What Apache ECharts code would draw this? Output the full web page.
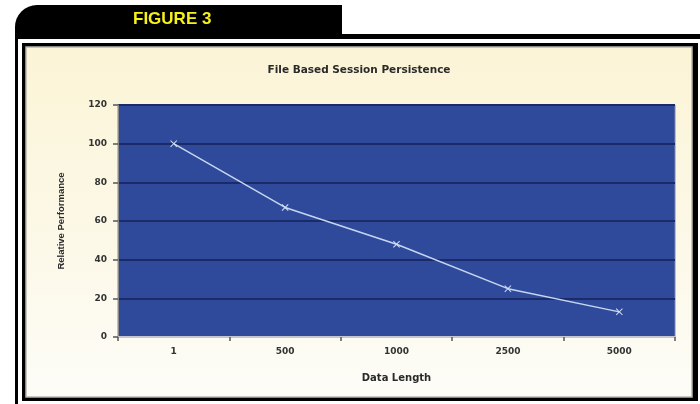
<!DOCTYPE html>
<html>
<head>
<meta charset="utf-8">
<script src="https://cdn.jsdelivr.net/npm/echarts@6/dist/echarts.min.js"></script>
<style>
html,body{margin:0;padding:0;background:#fff;}
#c{width:700px;height:404px;}
</style>
</head>
<body>
<div id="c"></div>
<script>
const figureLabel = 'FIGURE 3';
const chartTitle = 'File Based Session Persistence';
const xName = 'Data Length';
const yName = 'Relative Performance';
const categories = ['1', '500', '1000', '2500', '5000'];
const values = [100, 67, 48, 25, 13];
const yTicks = { min: 0, max: 120, interval: 20 };

const chart = echarts.init(document.getElementById('c'), null, { renderer: 'canvas' });
chart.setOption({
  animation: false,
  backgroundColor: '#ffffff',
  graphic: [
    { type: 'rect', z: -10, shape: { x: 15, y: 5, width: 327, height: 31, r: [22, 0, 0, 0] }, style: { fill: '#000' } },
    { type: 'text', z: 10, left: 178 - 45, top: 11, style: { text: figureLabel, fill: '#f6f01c', font: 'bold 17px "Liberation Sans", Arial, sans-serif', width: 90, align: 'left' } },
    { type: 'rect', z: -10, shape: { x: 15, y: 34, width: 690, height: 5 }, style: { fill: '#000' } },
    { type: 'rect', z: -10, shape: { x: 15, y: 34, width: 3, height: 380 }, style: { fill: '#000' } },
    { type: 'rect', z: -10, shape: { x: 23.5, y: 44.5, width: 673, height: 355 }, style: { fill: '#000', stroke: '#000', lineWidth: 3 } },
    { type: 'rect', z: -9, shape: { x: 26, y: 47, width: 666, height: 350 }, style: {
        fill: new echarts.graphic.LinearGradient(0, 0, 0, 1, [
          { offset: 0, color: '#fbf4d6' },
          { offset: 0.5, color: '#fcf8e6' },
          { offset: 1, color: '#fdfcf7' }
        ]), stroke: '#b8b8b0', lineWidth: 1.5 } }
  ],
  title: {
    text: chartTitle,
    left: 354, top: 60, textAlign: 'center',
    textStyle: { fontFamily: '"DejaVu Sans", sans-serif', fontSize: 10.5, fontWeight: 'bold', color: '#2a2a2a' }
  },
  grid: {
    left: 118, right: 25, top: 105, bottom: 67,
    show: true, backgroundColor: '#2f4a9a', borderColor: '#7d88b3', borderWidth: 1
  },
  xAxis: {
    type: 'category',
    data: categories,
    boundaryGap: true,
    name: xName,
    nameLocation: 'middle',
    nameGap: 36,
    nameTextStyle: { fontFamily: '"DejaVu Sans", sans-serif', fontSize: 10, fontWeight: 'bold', color: '#2a2a2a' },
    axisLine: { show: true, lineStyle: { color: '#c4c6d0', width: 2 } },
    axisTick: { show: true, length: 4, lineStyle: { color: '#555', width: 1.5 } },
    axisLabel: { margin: 10, fontFamily: '"DejaVu Sans", sans-serif', fontSize: 9, fontWeight: 'bold', color: '#333' }
  },
  yAxis: {
    type: 'value',
    min: yTicks.min, max: yTicks.max, interval: yTicks.interval,
    name: yName,
    nameLocation: 'middle',
    nameGap: 52,
    nameRotate: 90,
    nameTextStyle: { fontFamily: '"Liberation Sans Narrow", "Liberation Sans", sans-serif', fontSize: 9.5, fontWeight: 'bold', color: '#2a2a2a' },
    axisLine: { show: true, lineStyle: { color: '#888', width: 1 } },
    axisTick: { show: true, length: 5, lineStyle: { color: '#555', width: 1.5 } },
    axisLabel: { margin: 11, fontFamily: '"DejaVu Sans", sans-serif', fontSize: 9, fontWeight: 'bold', color: '#333' },
    splitLine: { show: true, lineStyle: { color: '#1b2a68', width: 2 } }
  },
  series: [{
    type: 'line',
    data: values,
    symbol: 'path://M0,1L1,0L5,4L9,0L10,1L6,5L10,9L9,10L5,6L1,10L0,9L4,5Z',
    symbolSize: 7,
    itemStyle: { color: '#d2e0f8' },
    lineStyle: { color: '#c6d6f2', width: 1.5 }
  }]
});
</script>
</body>
</html>
